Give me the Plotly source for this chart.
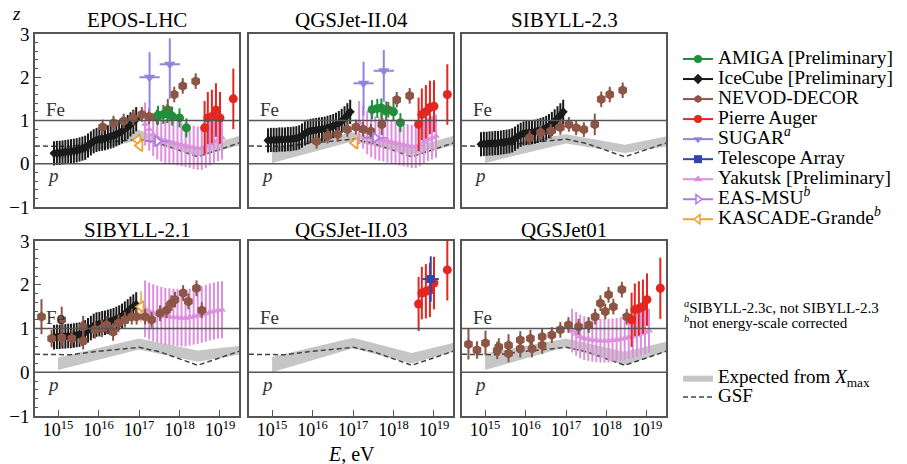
import plotly.graph_objects as go
from plotly.subplots import make_subplots

W, H = 907, 464
FONT = "Liberation Serif"

# ---------------- data (log10 E/eV, z = lnA / ln56) ----------------
ICECUBE_LGE = [14.90, 14.97, 15.04, 15.11, 15.18, 15.25, 15.32, 15.39, 15.46, 15.53,
               15.60, 15.67, 15.74, 15.81, 15.88, 15.95, 16.02, 16.09, 16.16, 16.23,
               16.30, 16.37, 16.44, 16.51, 16.58, 16.65, 16.72, 16.79, 16.86, 16.93]
ICECUBE_Z_EPOS = [0.24, 0.25, 0.25, 0.26, 0.27, 0.28, 0.29, 0.30, 0.31, 0.33,
                  0.35, 0.37, 0.42, 0.47, 0.52, 0.55, 0.57, 0.58, 0.59, 0.61,
                  0.63, 0.65, 0.68, 0.71, 0.75, 0.80, 0.85, 0.91, 0.97, 1.03]
ICECUBE_Z_QII04 = [0.54, 0.55, 0.55, 0.55, 0.56, 0.56, 0.56, 0.57, 0.57, 0.58,
                   0.59, 0.61, 0.65, 0.70, 0.74, 0.76, 0.77, 0.78, 0.79, 0.80,
                   0.81, 0.83, 0.85, 0.87, 0.90, 0.94, 0.99, 1.05, 1.12, 1.20]
ICECUBE_Z_SIB23 = [0.45, 0.46, 0.46, 0.47, 0.47, 0.48, 0.48, 0.49, 0.50, 0.51,
                   0.52, 0.54, 0.58, 0.63, 0.67, 0.70, 0.71, 0.72, 0.73, 0.74,
                   0.76, 0.78, 0.80, 0.83, 0.87, 0.92, 0.98, 1.05, 1.12, 1.20]
ICECUBE_Z_SIB21 = [0.80, 0.81, 0.81, 0.82, 0.82, 0.83, 0.83, 0.84, 0.85, 0.86,
                   0.88, 0.91, 0.96, 1.01, 1.06, 1.09, 1.10, 1.12, 1.13, 1.15,
                   1.17, 1.19, 1.22, 1.25, 1.29, 1.34, 1.39, 1.45, 1.50, 1.55]
ICECUBE_ERR = 0.28

NEVOD_HI_LGE = [16.10, 16.37, 16.62, 16.86, 17.07, 17.25, 17.44, 17.71, 17.87, 18.08, 18.40]
NEVOD_Z_EPOS = [0.85, 0.94, 0.99, 1.06, 1.14, 1.09, 1.08, 1.25, 1.60, 1.80, 1.91]
NEVOD_Z_QII04 = [0.52, 0.64, 0.68, 0.79, 0.85, 0.80, 0.75, 0.91, 1.25, 1.48, 1.57]
NEVOD_Z_SIB23 = [0.60, 0.72, 0.75, 0.84, 0.91, 0.83, 0.79, 0.91, 1.49, 1.60, 1.70]
NEVOD_HI_ERR = [0.17, 0.17, 0.17, 0.17, 0.17, 0.17, 0.17, 0.25, 0.18, 0.18, 0.18]

NEVOD_SIB21_LGE = [14.59, 14.84, 15.09, 15.09, 15.34, 15.62, 15.62, 15.91, 16.08, 16.20,
                   16.36, 16.49, 16.65, 16.82, 16.94, 17.15, 17.31, 17.52, 17.68, 17.80,
                   17.89, 18.09, 18.22, 18.42, 18.55]
NEVOD_SIB21_Z = [1.27, 0.77, 1.20, 0.79, 0.77, 1.04, 0.72, 0.97, 1.00, 1.08,
                 0.92, 1.12, 1.20, 1.27, 1.27, 1.27, 1.20, 1.35, 1.42, 1.58,
                 1.66, 1.81, 1.62, 1.92, 1.42]
NEVOD_SIB21_ERR = [0.40, 0.20, 0.30, 0.20, 0.20, 0.25, 0.20, 0.20, 0.20, 0.20,
                   0.20, 0.20, 0.18, 0.18, 0.18, 0.18, 0.18, 0.18, 0.18, 0.18,
                   0.18, 0.18, 0.18, 0.18, 0.18]

NEVOD_Q01_LGE = [14.59, 14.80, 15.01, 15.30, 15.34, 15.58, 15.58, 15.87, 15.87, 16.12,
                 16.16, 16.41, 16.41, 16.65, 16.86, 17.06, 17.31, 17.56, 17.72, 17.85,
                 17.97, 18.05, 18.17, 18.38, 18.50]
NEVOD_Q01_Z = [0.64, 0.51, 0.67, 0.50, 0.58, 0.62, 0.43, 0.54, 0.74, 0.77,
               0.54, 0.62, 0.81, 0.85, 0.97, 1.08, 1.04, 1.08, 1.27, 1.58,
               1.39, 1.77, 1.50, 1.89, 1.27]
NEVOD_Q01_ERR = [0.35, 0.20, 0.28, 0.20, 0.20, 0.25, 0.20, 0.20, 0.20, 0.20,
                 0.20, 0.20, 0.18, 0.18, 0.18, 0.18, 0.18, 0.18, 0.18, 0.18,
                 0.18, 0.18, 0.18, 0.18, 0.18]

AMIGA_LGE = [17.47, 17.60, 17.70, 17.82, 18.00, 18.17]
AMIGA_Z_EPOS = [1.12, 1.14, 1.16, 1.10, 1.06, 0.83]
AMIGA_Z_QII04 = [1.25, 1.28, 1.29, 1.22, 1.20, 0.95]
AMIGA_ERR = 0.22

SUGAR_LGE = [17.26, 17.76]
SUGAR_Z_EPOS = [2.00, 2.30]
SUGAR_UP_EPOS = [0.58, 0.60]
SUGAR_DN_EPOS = [0.80, 0.80]
SUGAR_Z_QII04 = [1.86, 2.15]
SUGAR_UP_QII04 = [0.50, 0.48]
SUGAR_DN_QII04 = [0.75, 0.72]
SUGAR_XERR = 0.25

AUGER_LGE = [18.62, 18.70, 18.80, 18.90, 19.00, 19.33]
AUGER_Z_EPOS = [0.83, 1.06, 1.09, 1.24, 1.06, 1.50]
AUGER_Z_QII04 = [0.91, 1.14, 1.20, 1.30, 1.33, 1.60]
AUGER_Z_QII03 = [1.56, 1.81, 1.85, 1.88, 2.04, 2.34]
AUGER_Z_Q01 = [1.20, 1.43, 1.46, 1.50, 1.66, 1.92]
AUGER_ERR = [0.62, 0.60, 0.62, 0.62, 0.60, 0.70]

TA_LGE = [18.92]
TA_Z_QII03 = [2.13]
TA_ERR = [0.52]
TA_XERR = 0.20

YAK_LGE = [17.15, 17.25, 17.35, 17.45, 17.55, 17.65, 17.75, 17.85, 17.95, 18.05,
           18.15, 18.25, 18.35, 18.45, 18.55, 18.65, 18.75, 18.85, 18.95, 19.05]
YAK_Z_EPOS = [0.92, 0.80, 0.68, 0.60, 0.55, 0.52, 0.50, 0.48, 0.46, 0.44,
              0.42, 0.40, 0.38, 0.36, 0.36, 0.40, 0.46, 0.52, 0.56, 0.60]
YAK_Z_QII04 = [0.95, 0.85, 0.72, 0.65, 0.60, 0.57, 0.55, 0.53, 0.50, 0.48,
               0.46, 0.44, 0.42, 0.40, 0.40, 0.44, 0.50, 0.56, 0.60, 0.64]
YAK_Z_SIB21 = [1.45, 1.40, 1.36, 1.33, 1.30, 1.28, 1.27, 1.26, 1.25, 1.24,
               1.24, 1.26, 1.28, 1.30, 1.32, 1.35, 1.38, 1.40, 1.42, 1.43]
YAK_Z_Q01 = [0.95, 0.88, 0.82, 0.78, 0.76, 0.74, 0.73, 0.72, 0.72, 0.72,
             0.73, 0.74, 0.76, 0.78, 0.80, 0.82, 0.85, 0.88, 0.92, 0.95]
YAK_ERR = 0.5
YAK_ERR_SIB21 = 0.65

EASMSU_LGE_EPOS = [17.45]
EASMSU_Z_EPOS = [0.52]
EASMSU_LGE_QII04 = [17.55]
EASMSU_Z_QII04 = [0.60]
EASMSU_XERR = 0.3
EASMSU_ERR = 0.1

KG_LGE_EPOS = [16.97, 17.02]
KG_Z_EPOS = [0.55, 0.42]
KG_LGE_QII04 = [17.05]
KG_Z_QII04 = [0.48]
KG_LGE_SIB21 = [17.05]
KG_Z_SIB21 = [1.50]
KG_ERR = 0.12
KG_ERR_SIB21 = 0.35

BAND_LGE = [15.0, 17.0, 18.45, 19.47]
BAND_LO = {
    "EPOS": [0.10, 0.55, 0.18, 0.42], "QII04": [0.02, 0.52, 0.20, 0.42],
    "SIB23": [0.02, 0.47, 0.25, 0.40], "SIB21": [0.05, 0.52, 0.24, 0.40],
    "QII03": [0.00, 0.55, 0.20, 0.47], "Q01": [0.05, 0.58, 0.16, 0.47],
}
BAND_HI = {
    "EPOS": [0.35, 0.78, 0.36, 0.64], "QII04": [0.37, 0.73, 0.38, 0.64],
    "SIB23": [0.40, 0.68, 0.44, 0.63], "SIB21": [0.34, 0.77, 0.50, 0.60],
    "QII03": [0.35, 0.79, 0.44, 0.67], "Q01": [0.43, 0.77, 0.47, 0.70],
}

GSF_LGE = [14.43, 15.3, 16.0, 16.5, 17.0, 17.5, 18.0, 18.45, 19.0, 19.47]
GSF_Z = [0.41, 0.40, 0.48, 0.53, 0.57, 0.47, 0.31, 0.16, 0.33, 0.48]

X_TICKS = [15, 16, 17, 18, 19]
X_TICKTEXT = ["10<sup>15</sup>", "10<sup>16</sup>", "10<sup>17</sup>", "10<sup>18</sup>", "10<sup>19</sup>"]
Y_TICKS = [-1, 0, 1, 2, 3]

# panels: key, title, row, col
PANELS = [("EPOS", "EPOS-LHC", 1, 1), ("QII04", "QGSJet-II.04", 1, 2), ("SIB23", "SIBYLL-2.3", 1, 3),
          ("SIB21", "SIBYLL-2.1", 2, 1), ("QII03", "QGSJet-II.03", 2, 2), ("Q01", "QGSJet01", 2, 3)]

# ---------------- styles ----------------
C_AMIGA = "#1f8f3c"
C_ICE = "#1a1a1a"
C_NEVOD = "#8c5545"
C_AUGER = "#e3261f"
C_SUGAR = "#8f86dc"
C_TA = "#3344aa"
C_YAK = "#dc8fdc"
C_MSU = "#b07ae0"
C_KG = "#f0a030"
C_BAND = "#c6c6c6"
C_GSF = "#444444"
C_FRAME = "#555555"

COL_PX = [(35, 239), (249, 453), (462, 666)]
ROW_PX = [(34, 207), (241, 416)]
TITLE_GAP = [14.5, 10.5]

fig = make_subplots(rows=2, cols=3)


def axis_names(row, col):
    n = (row - 1) * 3 + col
    return ("x" if n == 1 else f"x{n}"), ("y" if n == 1 else f"y{n}")


def add_points(row, col, lge, z, color, symbol, size, err=None, err_up=None, err_dn=None,
               xerr=None, open_marker=False, thick=2.0):
    ey = None
    if err is not None:
        ey = dict(type="data", array=[err] * len(z) if isinstance(err, float) else err,
                  color=color, thickness=thick, width=0)
    elif err_up is not None:
        ey = dict(type="data", symmetric=False, array=err_up, arrayminus=err_dn,
                  color=color, thickness=thick, width=0)
    ex = None
    if xerr is not None:
        ex = dict(type="data", array=[xerr] * len(z), color=color, thickness=thick, width=0)
    marker = dict(color=color, symbol=symbol, size=size, line=dict(width=0))
    if open_marker:
        marker = dict(color="white", symbol=symbol, size=size, line=dict(color=color, width=1.8))
    fig.add_trace(go.Scatter(x=lge, y=z, mode="markers", marker=marker, error_y=ey, error_x=ex,
                             showlegend=False, hoverinfo="skip"), row=row, col=col)


band_legend_done = False
for key, title, r, c in PANELS:
    lo, hi = BAND_LO[key], BAND_HI[key]
    fig.add_trace(go.Scatter(
        x=BAND_LGE + BAND_LGE[::-1], y=hi + lo[::-1], fill="toself", fillcolor=C_BAND,
        mode="lines", line=dict(width=0, color=C_BAND), hoverinfo="skip",
        name="<span style='font-size:19px'>Expected from <i>X</i><sub>max</sub></span>",
        legend="legend2", showlegend=not band_legend_done), row=r, col=c)
    fig.add_trace(go.Scatter(
        x=GSF_LGE, y=GSF_Z, mode="lines", line=dict(color=C_GSF, width=1.5, dash="5px,3px"),
        hoverinfo="skip", name="<span style='font-size:19px'>GSF</span>",
        legend="legend2", showlegend=not band_legend_done), row=r, col=c)
    band_legend_done = True
    fig.add_hline(y=1, line=dict(color=C_FRAME, width=1.3), row=r, col=c)
    fig.add_hline(y=0, line=dict(color=C_FRAME, width=1.3), row=r, col=c)

# EPOS-LHC
add_points(1, 1, YAK_LGE, YAK_Z_EPOS, C_YAK, "triangle-up", 7, err=YAK_ERR)
add_points(1, 1, ICECUBE_LGE, ICECUBE_Z_EPOS, C_ICE, "diamond", 7, err=ICECUBE_ERR)
add_points(1, 1, NEVOD_HI_LGE, NEVOD_Z_EPOS, C_NEVOD, "hexagon", 10, err=NEVOD_HI_ERR)
add_points(1, 1, AMIGA_LGE, AMIGA_Z_EPOS, C_AMIGA, "circle", 9, err=AMIGA_ERR)
add_points(1, 1, SUGAR_LGE, SUGAR_Z_EPOS, C_SUGAR, "triangle-down", 10,
           err_up=SUGAR_UP_EPOS, err_dn=SUGAR_DN_EPOS, xerr=SUGAR_XERR)
add_points(1, 1, EASMSU_LGE_EPOS, EASMSU_Z_EPOS, C_MSU, "triangle-right", 9, err=EASMSU_ERR,
           xerr=EASMSU_XERR, open_marker=True, thick=1.5)
add_points(1, 1, KG_LGE_EPOS, KG_Z_EPOS, C_KG, "triangle-left", 10, err=KG_ERR,
           open_marker=True, thick=1.5)
add_points(1, 1, AUGER_LGE, AUGER_Z_EPOS, C_AUGER, "circle", 9, err=AUGER_ERR)

# QGSJet-II.04
add_points(1, 2, YAK_LGE, YAK_Z_QII04, C_YAK, "triangle-up", 7, err=YAK_ERR)
add_points(1, 2, ICECUBE_LGE, ICECUBE_Z_QII04, C_ICE, "diamond", 7, err=ICECUBE_ERR)
add_points(1, 2, NEVOD_HI_LGE, NEVOD_Z_QII04, C_NEVOD, "hexagon", 10, err=NEVOD_HI_ERR)
add_points(1, 2, AMIGA_LGE, AMIGA_Z_QII04, C_AMIGA, "circle", 9, err=AMIGA_ERR)
add_points(1, 2, SUGAR_LGE, SUGAR_Z_QII04, C_SUGAR, "triangle-down", 10,
           err_up=SUGAR_UP_QII04, err_dn=SUGAR_DN_QII04, xerr=SUGAR_XERR)
add_points(1, 2, EASMSU_LGE_QII04, EASMSU_Z_QII04, C_MSU, "triangle-right", 9, err=EASMSU_ERR,
           xerr=EASMSU_XERR, open_marker=True, thick=1.5)
add_points(1, 2, KG_LGE_QII04, KG_Z_QII04, C_KG, "triangle-left", 10, err=KG_ERR,
           open_marker=True, thick=1.5)
add_points(1, 2, AUGER_LGE, AUGER_Z_QII04, C_AUGER, "circle", 9, err=AUGER_ERR)

# SIBYLL-2.3
add_points(1, 3, ICECUBE_LGE, ICECUBE_Z_SIB23, C_ICE, "diamond", 7, err=ICECUBE_ERR)
add_points(1, 3, NEVOD_HI_LGE, NEVOD_Z_SIB23, C_NEVOD, "hexagon", 10, err=NEVOD_HI_ERR)

# SIBYLL-2.1
add_points(2, 1, YAK_LGE, YAK_Z_SIB21, C_YAK, "triangle-up", 7, err=YAK_ERR_SIB21)
add_points(2, 1, ICECUBE_LGE, ICECUBE_Z_SIB21, C_ICE, "diamond", 7, err=ICECUBE_ERR)
add_points(2, 1, KG_LGE_SIB21, KG_Z_SIB21, C_KG, "triangle-left", 10, err=KG_ERR_SIB21,
           open_marker=True, thick=1.5)
add_points(2, 1, NEVOD_SIB21_LGE, NEVOD_SIB21_Z, C_NEVOD, "hexagon", 10, err=NEVOD_SIB21_ERR)

# QGSJet-II.03
add_points(2, 2, AUGER_LGE, AUGER_Z_QII03, C_AUGER, "circle", 9, err=AUGER_ERR)
add_points(2, 2, TA_LGE, TA_Z_QII03, C_TA, "square", 8, err=TA_ERR, xerr=TA_XERR)

# QGSJet01
add_points(2, 3, YAK_LGE, YAK_Z_Q01, C_YAK, "triangle-up", 7, err=YAK_ERR)
add_points(2, 3, NEVOD_Q01_LGE, NEVOD_Q01_Z, C_NEVOD, "hexagon", 10, err=NEVOD_Q01_ERR)
add_points(2, 3, AUGER_LGE, AUGER_Z_Q01, C_AUGER, "circle", 9, err=AUGER_ERR)

# legend entries (line + marker glyphs)
LEGEND_ITEMS = [
    ("AMIGA [Preliminary]", C_AMIGA, "circle", False),
    ("IceCube [Preliminary]", C_ICE, "diamond", False),
    ("NEVOD-DECOR", C_NEVOD, "hexagon", False),
    ("Pierre Auger", C_AUGER, "circle", False),
    ("SUGAR<sup><i>a</i></sup>", C_SUGAR, "triangle-down", False),
    ("Telescope Array", C_TA, "square", False),
    ("Yakutsk [Preliminary]", C_YAK, "triangle-up", False),
    ("EAS-MSU<sup><i>b</i></sup>", C_MSU, "triangle-right", True),
    ("KASCADE-Grande<sup><i>b</i></sup>", C_KG, "triangle-left", True),
]
for name, color, symbol, is_open in LEGEND_ITEMS:
    mk = dict(color=color, symbol=symbol, size=8, line=dict(width=0))
    if is_open:
        mk = dict(color="white", symbol=symbol, size=8, line=dict(color=color, width=1.5))
    fig.add_trace(go.Scatter(x=[None], y=[None], mode="lines+markers",
                             line=dict(color=color, width=2), marker=mk,
                             name=f"<span style='font-size:19.5px'>{name}</span>",
                             legend="legend", showlegend=True), row=1, col=1)

# axes
for key, title, r, c in PANELS:
    xa, ya = axis_names(r, c)
    xn = "xaxis" + xa[1:]
    yn = "yaxis" + ya[1:]
    fig.layout[xn].update(
        domain=[COL_PX[c - 1][0] / W, COL_PX[c - 1][1] / W], range=[14.43, 19.47],
        tickvals=X_TICKS, ticktext=X_TICKTEXT, showticklabels=(r == 2),
        ticks="inside" if r == 2 else "", ticklen=6, tickwidth=1.2, tickcolor=C_FRAME,
        ticklabelstandoff=-3, automargin=False,
        showgrid=False, zeroline=False, showline=True, mirror=True,
        linecolor=C_FRAME, linewidth=1.5,
        tickfont=dict(family=FONT, size=18, color="black"))
    fig.layout[yn].update(
        domain=[1 - ROW_PX[r - 1][1] / H, 1 - ROW_PX[r - 1][0] / H], range=[-1, 3],
        tickvals=Y_TICKS, showticklabels=(c == 1),
        ticks="inside" if c == 1 else "", ticklen=6, tickwidth=1.2, tickcolor=C_FRAME,
        minor=dict(dtick=0.2, ticks="inside" if c == 1 else "", ticklen=3, tickcolor=C_FRAME),
        automargin=False,
        showgrid=False, zeroline=False, showline=True, mirror=True,
        linecolor=C_FRAME, linewidth=1.5,
        tickfont=dict(family=FONT, size=19, color="black"))

    # panel title
    fig.add_annotation(text=title, x=(COL_PX[c - 1][0] + COL_PX[c - 1][1]) / 2 / W,
                       y=1 - (ROW_PX[r - 1][0] - TITLE_GAP[r - 1]) / H, xref="paper", yref="paper",
                       xanchor="center", yanchor="middle", showarrow=False,
                       font=dict(family=FONT, size=21, color="black"))
    # Fe / p labels
    fig.add_annotation(text="Fe", x=0.045, xref=f"{xa} domain", y=1.26, yref=ya,
                       xanchor="left", yanchor="middle", showarrow=False,
                       font=dict(family=FONT, size=19, color="#333333"))
    fig.add_annotation(text="<i>p</i>", x=0.05, xref=f"{xa} domain", y=-0.27, yref=ya,
                       xanchor="left", yanchor="middle", showarrow=False,
                       font=dict(family=FONT, size=19, color="#333333"))

# axis labels
fig.add_annotation(text="<i>z</i>", x=16 / W, y=1 - 13 / H, xref="paper", yref="paper",
                   xanchor="center", yanchor="middle", showarrow=False,
                   font=dict(family=FONT, size=19, color="black"))
fig.add_annotation(text="<i>E</i>, eV", x=(COL_PX[1][0] + COL_PX[1][1]) / 2 / W, y=1 - 454 / H,
                   xref="paper", yref="paper", xanchor="center", yanchor="middle",
                   showarrow=False, font=dict(family=FONT, size=20, color="black"))

# footnotes
fig.add_annotation(text="<sup><i>a</i></sup>SIBYLL-2.3c, not SIBYLL-2.3", x=682 / W, y=1 - 307 / H,
                   xref="paper", yref="paper", xanchor="left", yanchor="middle",
                   showarrow=False, font=dict(family=FONT, size=15, color="black"))
fig.add_annotation(text="<sup><i>b</i></sup>not energy-scale corrected", x=682 / W, y=1 - 322 / H,
                   xref="paper", yref="paper", xanchor="left", yanchor="middle",
                   showarrow=False, font=dict(family=FONT, size=15, color="black"))

fig.update_layout(
    width=W, height=H, margin=dict(l=0, r=0, t=0, b=0, autoexpand=False),
    paper_bgcolor="white", plot_bgcolor="white",
    font=dict(family=FONT),
    legend=dict(x=678 / W, y=1 - 44 / H, xanchor="left", yanchor="top",
                font=dict(family=FONT, size=13.1, color="black"),
                bgcolor="rgba(0,0,0,0)", borderwidth=0, itemwidth=30, tracegroupgap=0),
    legend2=dict(x=678 / W, y=1 - 363 / H, xanchor="left", yanchor="top",
                 font=dict(family=FONT, size=12.6, color="black"),
                 bgcolor="rgba(0,0,0,0)", borderwidth=0, itemwidth=30, tracegroupgap=0),
)

fig.write_html("out.html")
